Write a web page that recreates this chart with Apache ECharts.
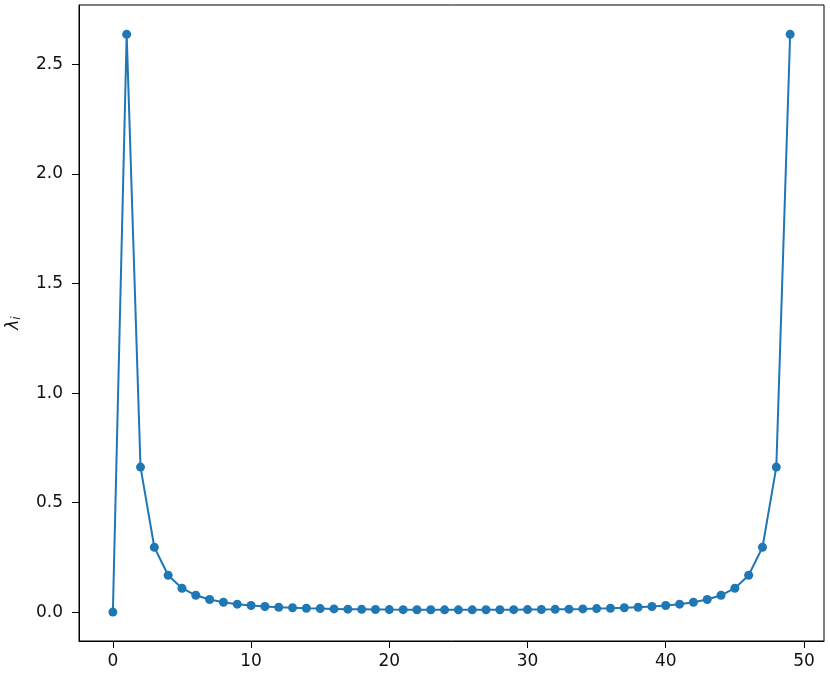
<!DOCTYPE html>
<html>
<head>
<meta charset="utf-8">
<script src="https://cdn.jsdelivr.net/npm/echarts@6/dist/echarts.min.js"></script>
<style>
  html, body { margin: 0; padding: 0; background: #fff; }
  #chart { width: 830px; height: 678px; }
</style>
</head>
<body>
<div id="chart"></div>
<script>
// index i and eigenvalue λ_i
const indices = [
  0, 1, 2, 3, 4, 5, 6, 7, 8, 9,
  10, 11, 12, 13, 14, 15, 16, 17, 18, 19,
  20, 21, 22, 23, 24, 25, 26, 27, 28, 29,
  30, 31, 32, 33, 34, 35, 36, 37, 38, 39,
  40, 41, 42, 43, 44, 45, 46, 47, 48, 49
];
const lambdas = [
  0.0, 2.638, 0.662, 0.296, 0.168, 0.109, 0.0768, 0.0574, 0.0448, 0.0362,
  0.0301, 0.0256, 0.0222, 0.0196, 0.0175, 0.0159, 0.0146, 0.0135, 0.0127, 0.0120,
  0.0115, 0.0111, 0.0108, 0.0106, 0.0104, 0.0104, 0.0104, 0.0106, 0.0108, 0.0111,
  0.0115, 0.0120, 0.0127, 0.0135, 0.0146, 0.0159, 0.0175, 0.0196, 0.0222, 0.0256,
  0.0301, 0.0362, 0.0448, 0.0574, 0.0768, 0.109, 0.168, 0.296, 0.662, 2.638
];
const xTicks = [0, 10, 20, 30, 40, 50];
const yTicks = [0, 0.5, 1.0, 1.5, 2.0, 2.5];

const chart = echarts.init(document.getElementById('chart'));

const font = 'DejaVu Sans';

chart.setOption({
  animation: false,
  grid: {
    left: 79, right: 6, top: 5, bottom: 37,
    outerBoundsMode: 'none',
    containLabel: false,
    show: true, borderColor: '#000', borderWidth: 1
  },
  xAxis: {
    type: 'value',
    min: -2.45, max: 51.45,
    splitLine: { show: false },
    axisLine: { show: true, onZero: false, lineStyle: { color: '#000', width: 1 } },
    axisTick: { show: true, length: 7, customValues: xTicks, lineStyle: { color: '#000' } },
    axisLabel: {
      customValues: xTicks, color: '#111', fontFamily: font, fontSize: 17, margin: 12
    }
  },
  yAxis: {
    type: 'value',
    min: -0.132, max: 2.772,
    name: '{l|λ}{s|i}',
    nameLocation: 'middle',
    nameRotate: 90,
    nameGap: 56,
    nameTextStyle: {
      rich: {
        l: { fontFamily: font, fontSize: 17, fontStyle: 'italic', color: '#111' },
        s: { fontFamily: font, fontSize: 12, fontStyle: 'italic', color: '#111', verticalAlign: 'bottom', padding: [7, 0, 0, 0] }
      }
    },
    splitLine: { show: false },
    axisLine: { show: true, onZero: false, lineStyle: { color: '#000', width: 1 } },
    axisTick: { show: true, length: 7, customValues: yTicks, lineStyle: { color: '#000' } },
    axisLabel: {
      customValues: yTicks, color: '#111', fontFamily: font, fontSize: 17, margin: 16,
      formatter: v => v.toFixed(1)
    }
  },
  series: [{
    type: 'line',
    data: indices.map((x, k) => [x, lambdas[k]]),
    symbol: 'circle',
    symbolSize: 9,
    showSymbol: true,
    lineStyle: { color: '#1f77b4', width: 2 },
    itemStyle: { color: '#1f77b4' }
  }]
});
</script>
</body>
</html>
